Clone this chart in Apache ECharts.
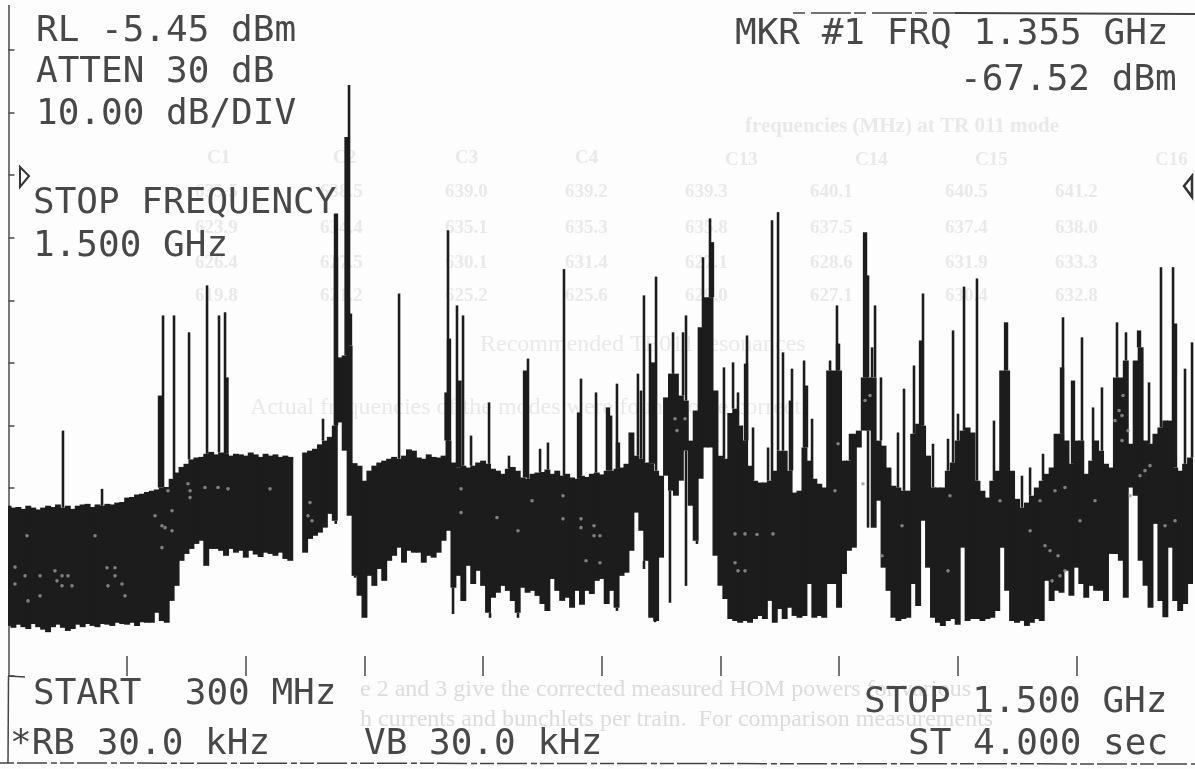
<!DOCTYPE html>
<html><head><meta charset="utf-8">
<style>html,body{margin:0;padding:0;background:#fdfdfd}#c{width:1195px;height:769px;filter:blur(0.55px)}</style>
<script src="https://cdn.jsdelivr.net/npm/echarts@6/dist/echarts.min.js"></script>
</head><body><div id="c"></div>
<script>
// Frequency axis in MHz, level axis in dB below the reference level (-5.45 dBm)
const startMHz = 300, stopMHz = 1500, stepMHz = 5;
const tickMHz = [420,540,660,780,900,1020,1140,1260,1380];
// Upper edge of the noise band, one value every 5 MHz from 300 MHz
const bandTop = [
-72.8,-73.1,-73,-73.3,-72.8,-73.1,-73.4,-73.1,-72.8,-73,-72.6,-73.1,
-72.8,-73.3,-72.8,-72.6,-72.5,-73,-72.6,-72.8,-72.5,-72.6,-72.3,-72.2,
-71.5,-71.4,-71,-70.9,-70.6,-70.4,-70.2,-69.9,-69.8,-68.5,-67.5,-66.6,
-66.1,-65.4,-65.1,-65,-64.5,-64.2,-64.6,-64.3,-64.5,-64.8,-64.5,-64.6,
-64.8,-64.3,-64.6,-65,-64.5,-64.8,-64.6,-65,-64.8,-65,null,null,
-64.3,-64,-63.7,-63,-62.4,-61.8,-60,-49.1,-48.8,-47.2,-66,-66.4,
-68.8,-67.2,-66.4,-65.9,-65.6,-65.3,-65,-65.3,-64.8,-63.8,-64,-65.1,
-65.3,-64.6,-65,-65.1,-64.8,-62.4,-65.9,-66.7,-66.4,-66.7,-66.4,-65.9,
-65.6,-66.1,-66.9,-67.2,-67.7,-66.9,-66.6,-67.2,-68.3,-68.5,-67.7,-67.5,
-67.4,-67,-67.7,-67.2,-68,-67.7,-68.3,-68.5,-68,-68.2,-67.7,-67.5,
-67.8,-67.2,-67.2,-66.9,-66.7,-66.1,-61.1,-64.8,-65.3,-65.9,-66.1,-67.2,
-68,-55.5,-51.7,-51.7,-55.2,-56,-62.4,-57.6,-44.3,-39.5,-39.5,-54.4,
-64.8,-65.3,-58,-57.3,-60,-62.4,-66.4,-68.8,-69.1,-69.1,-68.8,-67.2,
-64,-64,-67.2,-70.7,-70.4,-63.5,-65.6,-68.5,-69.3,-69.9,-51.2,-51.2,
-51.2,-65.6,-65.6,-61.3,-60.8,-52.3,-52.3,-52.3,-62.4,-63.2,-66.7,-69.6,
-69.9,-70.4,-70.4,-61.3,-59.7,-60,-64.8,-69.9,-69.9,-69.9,-67.2,-65.9,
-62.4,-60.8,-60.3,-61.1,-68.8,-70.4,-71.5,-68.8,-67.2,-51.2,-51.2,-67.2,
-71.7,-73.1,-72.3,-71.2,-69.9,-68.8,-67.7,-66.7,-61.3,-61.3,-62.4,-66.1,
-62.4,-62.4,-67.7,-65.6,-62.4,-64,-66.1,-66.7,-52.3,-52.3,-49.6,-62.9,
-49.6,-47.5,-62.4,-62.9,-61.3,-60.3,-59.2,-59.2,-66.7,-67.2,-66.1,-65.1];
// Lower edge of the noise band, same sampling
const bandBottom = [
-92,-92.3,-91.8,-92.2,-92.5,-91.7,-92.2,-92.6,-93,-92.2,-91.8,-92.3,
-92.8,-92.5,-91.8,-92.2,-91.7,-92,-92.2,-91.7,-91.8,-92,-91.5,-91.7,
-91.8,-91.5,-92,-91.4,-91.5,-91.5,-89.9,-91.2,-91.5,-88,-85.6,-81.6,
-80.5,-79.7,-78.9,-78.4,-82.4,-79.7,-79.7,-80,-80.8,-79.7,-80.3,-80,
-81.1,-80,-80.6,-81,-80.3,-80.5,-80.8,-80.3,-81.3,-81.6,null,null,
-80.3,-78.1,-77.6,-77.1,-76.3,-74.1,-75.2,-59.5,-64,-74.4,-84,-87.2,
-90.7,-84,-85.6,-82.9,-84.8,-81.6,-80.8,-79.5,-81.9,-80,-80.3,-80.3,
-81.9,-80.8,-81.1,-80.3,-78.4,-76.8,-85.9,-84,-88,-82.4,-85.3,-83.2,
-85.6,-89.9,-87.5,-86.7,-85.6,-86.4,-88,-89.9,-85.9,-86.7,-86.4,-87.2,
-88.5,-89.6,-84.5,-86.4,-88,-87.5,-89.1,-86.4,-88.6,-86.4,-86.9,-84.8,
-84.5,-88.5,-86.4,-89.1,-84,-83.5,-80,-73.9,-76.8,-81.6,-90.7,-91.2,
-81.1,-68,-70.4,-71.2,-68.8,-64,-72.8,-78.4,-68.5,-63.5,-63.5,-80.8,
-85.6,-87.7,-90.9,-91.2,-91.5,-91.2,-91.5,-90.9,-90.4,-90.9,-88,-91.5,
-89.3,-90.9,-89.1,-90.4,-90.7,-90.4,-85.3,-90.7,-90.4,-90.7,-85.3,-85.3,
-89.1,-83.7,-80,-79.5,-63.5,-60.8,-60.8,-76.3,-72,-82.7,-86.4,-90.7,
-91.2,-90.9,-90.7,-85.3,-88.8,-75.2,-82.7,-90.7,-91.5,-92,-91.2,-90.9,
-91.8,-79.5,-91.2,-90.9,-90.9,-91.2,-90.9,-90.7,-89.6,-79.5,-86.4,-91.2,
-91.5,-91.2,-92,-91.5,-90.9,-91.2,-84.8,-88,-86.4,-86.7,-83.2,-87.2,
-82.7,-85.3,-87.5,-85.6,-86.4,-86.4,-88,-80.5,-80.5,-81.6,-87.5,-69.9,
-71.2,-81.6,-85.6,-89.1,-75.7,-88,-90.6,-79.5,-88,-89.6,-88.5,-85.3];
// Narrow resonance lines
const lineFreq = [355.1,394.6,456.3,467.4,482.6,500.8,512.9,519,618.1,644.4,695,744.5,753.6,759.7,767.8,786,806.2,825.4,837.6,845.6,861.8,879,894.2,909.4,915.4,936.6,939.7,942.7,948.8,954.9,972.1,982.2,985.2,1002.4,1009.5,1023.6,1032.8,1037.8,1046.9,1053,1068.2,1072.2,1078.3,1083.3,1090.4,1092.4,1104.6,1112.7,1130.9,1137.9,1151.1,1169.3,1176.4,1173.4,1182.4,1199.6,1205.7,1215.8,1224.9,1235,1250.2,1255.3,1260.3,1266.4,1279.5,1296.7,1325,1333.2,1346.3,1366.5,1385.7,1396.9,1405.9,1421.1,1430.2,1453.5,1465.6,1477.8,1489.9,1497];
const lineTop = [-60.8,-70.1,-42.4,-42.4,-45.1,-37.6,-42.4,-41.9,-58.9,-5.6,-38.9,-28.8,-40.8,-42.4,-61.6,-56.3,-64.8,-49.3,-63.7,-62.7,-35,-52.5,-54.7,-58.4,-53.3,-51.7,-54.4,-39.2,-46.9,-36.2,-45.1,-45.1,-42.4,-33.1,-26.9,-50.7,-49.9,-54.7,-45.6,-60.3,-63.5,-27.2,-25.9,-48.3,-56,-50.9,-49.6,-58.9,-49.6,-40.8,-61.3,-36,-40.8,-47.5,-52.3,-61.1,-54.1,-50.4,-38.9,-62.9,-62.1,-44.8,-58.1,-37.8,-36.5,-59.2,-68,-66.7,-64.5,-42.7,-45.9,-57.1,-53.9,-43.5,-45.1,-53.1,-34.7,-34.7,-50.9,-46.7];
// Broader resonance lines
const broadFreq = [453.2,520.5,631.2,641.9,645.4,631.2,743,745.5,756.1,822.4,877,906.3,916.4,951.8,1011.5,1045.9,1106.6,1139,1166.3,1222.9,1308.9,1365.5,1376.6,1443.4,1479.8];
const broadTop = [-55.2,-52.3,-33,-13.9,-42.1,-26.1,-54.7,-46.1,-52.8,-51.2,-57.9,-57.1,-62.7,-49.9,-30.7,-50.1,-53.6,-46.9,-29.1,-46.4,-43.5,-50.7,-52.8,-44.8,-43.7];
// Lines reaching below the band
const dipFreq = [631,650.5,660.6,749.6,759.7,787,815.3,915.4,953.9,942.7,969,985.2,996.3,1169.3];
const dipLow = [-75.7,-84.3,-90.7,-90.1,-88,-90.7,-90.7,-89.6,-91.4,-82.9,-88.3,-85.6,-78.9,-76.3];
// Unprinted spots inside the band
const spotFreq = [318.7,306.6,306.6,316.7,331.9,354.1,347,360.2,354.1,349,364.2,331.9,319.7,387.5,399.6,407.7,400.6,407.7,414.8,417.8,448.2,458.3,455.2,465.4,455.2,465.4,461.3,483.6,481.5,483.6,498.7,511.9,522,564.5,604.9,607,602.9,757.7,757.7,794,829.5,860.8,860.8,879,879,892.2,898.2,892.2,815.3,884.1,898.2,974.1,984.2,976.1,1034.8,1044.9,1057,1073.2,1044.9,1034.8,1037.8,1139,1135.9,1166.3,1171.3,1164.2,1183.4,1203.7,1250.2,1361.5,1353.4,1355.4,1363.5,1368.5,1358.4,1432.3,1426.2,1419.1,1426.2,1423.2,1427.2,1454.5,1449.4,1444.4,1469.7,1479.8,1434.3,1383.7,1398.9,1348.3,1368.5,1333.2,1252.2,1302.8,1343.3];
const spotLevel = [-77.6,-82.6,-85.3,-84,-84,-84,-83.2,-84,-85.6,-84.8,-85.6,-87.2,-88,-77.6,-82.7,-82.7,-85.6,-84,-85.3,-87.2,-74.4,-76.3,-76,-76.8,-79.5,-73.6,-70.4,-70.4,-69.3,-71.5,-69.9,-69.9,-70.1,-70.1,-72.3,-75.2,-74.4,-70.1,-73.9,-74.7,-72,-71.2,-74.9,-74.9,-76.3,-76,-77.6,-77.6,-76.8,-81.6,-81.9,-58.9,-58.9,-60.8,-77.3,-77.3,-77.4,-77.3,-83.2,-81.9,-83.2,-62.9,-70.4,-56,-55.2,-69.3,-80.8,-76,-83.2,-80.8,-80,-84.8,-84,-83.2,-70.4,-60.8,-62.4,-59.2,-58.4,-57.6,-55.2,-66.4,-67.2,-68,-76,-75.2,-71.2,-75.2,-72,-79.2,-69.9,-76.8,-71.2,-72,-72];
// Screen annotations
const labelsBlack = [
 ['RL -5.45 dBm',36,32],['ATTEN 30 dB',36,73],['10.00 dB/DIV',36,115],
 ['STOP FREQUENCY',33,204],['1.500 GHz',33,247],
 ['MKR #1 FRQ 1.355 GHz',735,35],['-67.52 dBm',960,81],
 ['START  300 MHz',33,695],['*RB 30.0 kHz',10,745],['VB 30.0 kHz',364,745],
 ['STOP 1.500 GHz',864,703],['ST 4.000 sec',908,745]];
const ghostLines = [
 ['frequencies (MHz) at TR 011 mode',745,127,21],
 ['C1',207,158,19],['C2',333,158,19],['C3',455,158,19],['C4',575,158,19],['C13',725,160,19],['C14',855,160,19],['C15',975,160,19],['C16',1155,160,19],
 ['635.5',195,192,19],['638.5',320,192,19],['639.0',445,192,19],['639.2',565,192,19],['639.3',685,192,19],['640.1',810,192,19],['640.5',945,192,19],['641.2',1055,192,19],
 ['623.9',195,228,19],['634.4',320,228,19],['635.1',445,228,19],['635.3',565,228,19],['635.8',685,228,19],['637.5',810,228,19],['637.4',945,228,19],['638.0',1055,228,19],
 ['626.4',195,263,19],['627.5',320,263,19],['630.1',445,263,19],['631.4',565,263,19],['627.1',685,263,19],['628.6',810,263,19],['631.9',945,263,19],['633.3',1055,263,19],
 ['619.8',195,296,19],['621.2',320,296,19],['625.2',445,296,19],['625.6',565,296,19],['629.0',685,296,19],['627.1',810,296,19],['630.4',945,296,19],['632.8',1055,296,19],
 ['Recommended TE011 resonances',480,345,24],
 ['Actual frequencies of the modes were found to be correct',250,408,24],
 ['e 2 and 3 give the corrected measured HOM powers for various',360,690,24],
 ['h currents and bunchlets per train.  For comparison measurements',360,720,24]];

const fAt = i => startMHz + i*stepMHz;
const nearest = f => Math.max(0,Math.min(bandTop.length-1,Math.round((f-startMHz)/stepMHz)));
function topAt(f){const i=nearest(f);return bandTop[i]==null?-70:bandTop[i];}
function lowAt(f){const i=nearest(f);return bandBottom[i]==null?-80:bandBottom[i];}
const bandData = bandTop.map((t,i)=>t==null?null:[fAt(i),t,bandBottom[i]]).filter(Boolean);
const lineData = lineFreq.map((f,i)=>[f,lineTop[i],topAt(f)]);
const broadData = broadFreq.map((f,i)=>[f,broadTop[i],topAt(f)]);
const dipData = dipFreq.map((f,i)=>[f,lowAt(f),dipLow[i]]);
const spotData = spotFreq.map((f,i)=>[f,spotLevel[i]]);

const ink = '#1c1c1c';
function column(halfWidthMHz){
  return function(params,api){
    const f=api.value(0), a=api.coord([f-halfWidthMHz,api.value(1)]), b=api.coord([f+halfWidthMHz,api.value(2)]);
    return {type:'rect',shape:{x:a[0],y:a[1],width:b[0]-a[0],height:b[1]-a[1]},style:{fill:ink}};
  };
}
function customSeries(data,halfWidthMHz){
  return {type:'custom',data,renderItem:column(halfWidthMHz),encode:{x:0,y:[1,2]},silent:true,clip:true,animation:false};
}
const textEls = labelsBlack.map(([t,x,y])=>({type:'text',x,y,z:20,style:{text:t,fill:'#484848',font:'36px "DejaVu Sans Mono"',textVerticalAlign:'middle',verticalAlign:'middle'}}));
const ghostEls = ghostLines.map(([t,x,y,s])=>({type:'text',x,y,z:-5,style:{text:t,fill:y>600?'#dcdcdc':'#e9e9e9',font:(y>320?'':'bold ')+s+'px "Liberation Serif"',verticalAlign:'middle'}}));
const lineEl = (x1,y1,x2,y2,dash,w)=>({type:'line',z:10,shape:{x1,y1,x2,y2},style:{stroke:'#444',lineWidth:w||1.5,lineDash:dash||null}});

const chart = echarts.init(document.getElementById('c'));
chart.setOption({
  animation:false,
  backgroundColor:'#fdfdfd',
  grid:{left:8.5,top:50,width:1186.5,height:626,containLabel:false},
  xAxis:{type:'value',position:'bottom',min:startMHz,max:stopMHz,splitLine:{show:false},
    axisLine:{show:false,onZero:false},axisLabel:{show:false},
    axisTick:{show:true,inside:true,length:20,customValues:tickMHz,lineStyle:{color:'#4a4a4a',width:1.5}}},
  yAxis:{type:'value',min:-100,max:0,interval:10,splitLine:{show:false},
    axisLine:{show:true,onZero:false,lineStyle:{color:'#4a4a4a',width:1.5}},axisLabel:{show:false},
    axisTick:{show:true,inside:true,length:6,lineStyle:{color:'#4a4a4a',width:1.5}}},
  series:[
    customSeries(bandData,3),
    customSeries(lineData,1.3),
    customSeries(broadData,2.2),
    customSeries(dipData,1.3),
    {type:'scatter',data:spotData,symbol:'circle',symbolSize:3.6,itemStyle:{color:'#9a9a9a'},silent:true,animation:false,z:5}
  ],
  graphic:{elements:[
    ...ghostEls,...textEls,
    lineEl(9,5,9,50),lineEl(8.5,676,8,763),lineEl(8,676,25,677),
    lineEl(0,763,1195,764,[14,3,30,4,6,3]),
    lineEl(793,13,955,13,[12,6,40,3]),lineEl(955,13,1195,14,null,2),
    {type:'polygon',z:10,shape:{points:[[20,167],[29,176],[20,187]]},style:{fill:'none',stroke:'#333',lineWidth:2}},
    {type:'polygon',z:10,shape:{points:[[1192,176],[1184,186],[1192,197]]},style:{fill:'none',stroke:'#333',lineWidth:2.5}}
  ]}
});
</script></body></html>
